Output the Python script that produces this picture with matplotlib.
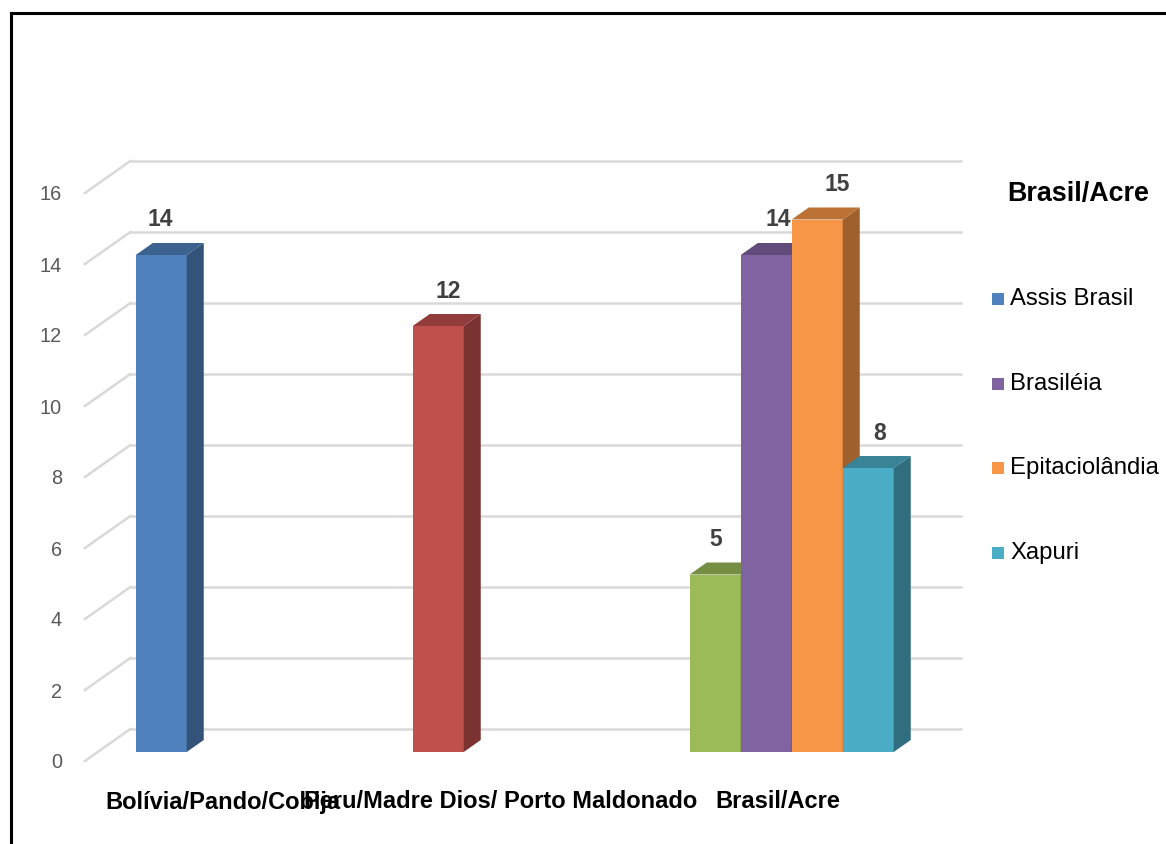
"""
Pseudo-3D clustered column chart: Bolívia / Peru / Brasil (Acre)
"""
import matplotlib
matplotlib.use('Agg')
import matplotlib.pyplot as plt
import matplotlib.colors as mcolors
from matplotlib.patches import Polygon, Rectangle
from matplotlib.lines import Line2D

# Data
categories = ['Bolívia/Pando/Cobija', 'Peru/Madre Dios/ Porto Maldonado', 'Brasil/Acre']
bar_category = [0, 1, 2, 2, 2, 2]
bar_slot = [0, 0, 0, 1, 2, 3]
bar_values = [14, 12, 5, 14, 15, 8]
bar_colors = ['#4f81bd', '#c0504d', '#9bbb59', '#8064a2', '#f79646', '#4bacc6']
y_ticks = [0, 2, 4, 6, 8, 10, 12, 14, 16]
legend_title = 'Brasil/Acre'
legend_labels = ['Assis Brasil', 'Brasiléia', 'Epitaciolândia', 'Xapuri']
legend_colors = ['#4f81bd', '#8064a2', '#f79646', '#4bacc6']

# Layout (pixels)
FIG_W, FIG_H = 1166, 844
CAT_PX = 277          # width of one category
VAL_PX = 35.5         # height of one value unit
PLOT_LEFT = 97.7      # x of category 0 on the bar front plane
PLOT_BASE = 752       # y of value 0 on the bar front plane
SLOPE = 1.42          # horizontal shift per pixel of depth
FRONT_EDGE, BAR_FRONT, BAR_BACK, WALL = 0, 9, 21, 32
BAR_OFFSET = 38 / CAT_PX
BAR_W = 51 / CAT_PX
label_shift_px = [-1, 10, 0, 12, 20, 11]

GRID_COLOR = '#d9d9d9'
TICK_COLOR = '#595959'
VALUE_COLOR = '#404040'
FONT = ['Liberation Sans', 'DejaVu Sans']

plt.rcParams['font.family'] = FONT


def depth(d):
    """Offset in data units from the bar front plane to depth d (pixels)."""
    px = d - BAR_FRONT
    return SLOPE * px / CAT_PX, px / VAL_PX


def shade(color, k):
    r, g, b = mcolors.to_rgb(color)
    return (r * k, g * k, b * k)


fig = plt.figure(figsize=(FIG_W / 100, FIG_H / 100), dpi=100, facecolor='white')
ax = fig.add_axes([PLOT_LEFT / FIG_W, (FIG_H - PLOT_BASE) / FIG_H,
                   3 * CAT_PX / FIG_W, 16 * VAL_PX / FIG_H])
ax.set_xlim(0, 3)
ax.set_ylim(0, 16)
ax.axis('off')

fx, fy = depth(FRONT_EDGE)
wx, wy = depth(WALL)
bx, by = depth(BAR_BACK)

# Back wall gridlines and side wall diagonals
for v in y_ticks:
    ax.add_line(Line2D([wx, 3 + wx], [v + wy, v + wy], color=GRID_COLOR,
                       lw=1.8, clip_on=False, zorder=1))
    ax.add_line(Line2D([fx, wx], [v + fy, v + wy], color=GRID_COLOR,
                       lw=1.8, clip_on=False, zorder=1))
    ax.text(fx - 23 / CAT_PX, v + fy - 2 / VAL_PX, str(v), ha='right', va='center',
            fontsize=14.3, color=TICK_COLOR, clip_on=False)

# Bars: front face, side face, top face
for i, (cat, slot, v, col) in enumerate(zip(bar_category, bar_slot, bar_values, bar_colors)):
    x0 = cat + BAR_OFFSET + slot * BAR_W
    x1 = x0 + BAR_W
    z = 2 + i
    ax.add_patch(Rectangle((x0, 0), BAR_W, v, facecolor=col, edgecolor='none',
                           zorder=z, clip_on=False))
    ax.add_patch(Polygon([(x1, 0), (x1, v), (x1 + bx, v + by), (x1 + bx, by)],
                         closed=True, facecolor=shade(col, 0.64), edgecolor='none',
                         zorder=z, clip_on=False))
    ax.add_patch(Polygon([(x0, v), (x1, v), (x1 + bx, v + by), (x0 + bx, v + by)],
                         closed=True, facecolor=shade(col, 0.76), edgecolor='none',
                         zorder=z, clip_on=False))
    ax.text(x0 + BAR_W / 2 + label_shift_px[i] / CAT_PX, v + by + 23 / VAL_PX, str(v),
            ha='center', va='center', fontsize=16.5, fontweight='bold',
            color=VALUE_COLOR, zorder=20, clip_on=False)

# Category labels along the front edge
for k, name in enumerate(categories):
    ax.text(k + 0.5 + fx, (PLOT_BASE - 802) / VAL_PX, name, ha='center', va='center',
            fontsize=17, fontweight='bold', color='black', zorder=20, clip_on=False)

# Legend
fig.text(1078 / FIG_W, 1 - 194 / FIG_H, legend_title, ha='center', va='center',
         fontsize=19.4, fontweight='bold', color='black')
for j, (lab, col) in enumerate(zip(legend_labels, legend_colors)):
    yc = 299 + j * 84.7
    fig.patches.append(Rectangle((992 / FIG_W, 1 - (yc + 6) / FIG_H), 12 / FIG_W, 12 / FIG_H,
                                 facecolor=col, edgecolor='none',
                                 transform=fig.transFigure, figure=fig))
    fig.text(1010 / FIG_W, 1 - yc / FIG_H, lab, ha='left', va='center',
             fontsize=17.2, color='black')

# Frame on top and left edges
fig.add_artist(Line2D([11 / FIG_W, 11 / FIG_W], [0, 1 - 13 / FIG_H], color='black',
                      lw=2.2, transform=fig.transFigure))
fig.add_artist(Line2D([11 / FIG_W, 1], [1 - 13 / FIG_H, 1 - 13 / FIG_H], color='black',
                      lw=2.2, transform=fig.transFigure))

fig.savefig('out.png', dpi=100, facecolor='white')
plt.close(fig)
